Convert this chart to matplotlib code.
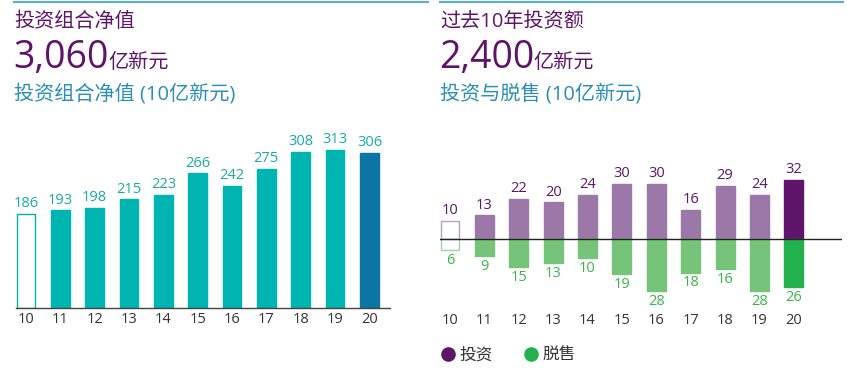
import matplotlib.pyplot as plt
from matplotlib.lines import Line2D

plt.rcParams['font.family'] = ['Open Sans', 'Noto Sans CJK SC', 'DejaVu Sans']

# ====================================
# Data
# ====================================
years = ["10", "11", "12", "13", "14", "15", "16", "17", "18", "19", "20"]
portfolio = [186, 193, 198, 215, 223, 266, 242, 275, 308, 313, 306]
invest = [10, 13, 22, 20, 24, 30, 30, 16, 29, 24, 32]
divest = [6, 9, 15, 13, 10, 19, 28, 18, 16, 28, 26]

# colours
purple = "#5e1468"
title_blue = "#2b8db8"
teal = "#00b5b1"
teal_txt = "#1aa9a9"
navy = "#0c75a5"
purple_light = "#9b78a8"
green_light = "#76c479"
green_dark = "#22b14c"
green_txt = "#39b54a"
tick_col = "#333333"

W, H = 860, 375
fig = plt.figure(figsize=(W / 100, H / 100), dpi=100)


def ax_px(x0, y0, x1, y1):
    # pixel box (top-left origin) -> figure axes
    return fig.add_axes([x0 / W, 1 - y1 / H, (x1 - x0) / W, (y1 - y0) / H])


# top rules
fig.add_artist(Line2D([14 / W, 428 / W], [1 - 1.5 / H] * 2, color="#5aaed0", lw=1.5))
fig.add_artist(Line2D([440 / W, 843 / W], [1 - 1.5 / H] * 2, color="#5aaed0", lw=1.5))

# ====================================
# Headers
# ====================================
fig.text(14 / W, 1 - 22 / H, "投资组合净值", color=purple, fontsize=14.5, va="center")
fig.text(13 / W, 1 - 68 / H, "3,060", color=purple, fontsize=27, va="baseline")
fig.text(108 / W, 1 - 68 / H, "亿新元", color=purple, fontsize=14.5, va="baseline")
fig.text(14 / W, 1 - 94 / H, "投资组合净值 (10亿新元)", color=title_blue, fontsize=14.5, va="center")

fig.text(440 / W, 1 - 22 / H, "过去10年投资额", color=purple, fontsize=14.5, va="center")
fig.text(439 / W, 1 - 68 / H, "2,400", color=purple, fontsize=27, va="baseline")
fig.text(533 / W, 1 - 68 / H, "亿新元", color=purple, fontsize=14.5, va="baseline")
fig.text(440 / W, 1 - 94 / H, "投资与脱售 (10亿新元)", color=title_blue, fontsize=14.5, va="center")

# ====================================
# Left chart: portfolio value
# ====================================
ax1 = ax_px(16, 130, 390, 308)
pos = list(range(len(years)))
fills = ["white"] + [teal] * 9 + [navy]
edges = [teal] * 10 + [navy]
ax1.bar(pos, portfolio, width=0.55, color=fills, edgecolor=edges, linewidth=1)
for x, v in zip(pos, portfolio):
    ax1.annotate(str(v), (x, v), xytext=(0, 2), textcoords="offset points",
                 ha="center", va="bottom", fontsize=10.5, color=teal_txt)
ax1.set_xlim(-0.29, 10.6)
ax1.set_ylim(0, 352)
ax1.set_xticks(pos, years)
ax1.tick_params(axis="x", length=0, pad=3, labelsize=10.5, labelcolor=tick_col)
ax1.set_yticks([])
for s in ["top", "right", "left"]:
    ax1.spines[s].set_visible(False)
ax1.spines["bottom"].set_color("#444444")
ax1.spines["bottom"].set_linewidth(1)

# ====================================
# Right chart: investments vs divestments
# ====================================
ax2 = ax_px(440, 170, 842, 300)
inv_fill = ["white"] + [purple_light] * 9 + [purple]
inv_edge = ["#b99cc6"] + [purple_light] * 9 + [purple]
div_fill = ["white"] + [green_light] * 9 + [green_dark]
div_edge = ["#9ed49f"] + [green_light] * 9 + [green_dark]
ax2.bar(pos, invest, width=0.55, color=inv_fill, edgecolor=inv_edge, linewidth=1)
ax2.bar(pos, [-d for d in divest], width=0.55, color=div_fill, edgecolor=div_edge, linewidth=1)
ax2.axhline(0, color="#222222", lw=1)
for x, v in zip(pos, invest):
    ax2.annotate(str(v), (x, v), xytext=(0, 2), textcoords="offset points",
                 ha="center", va="bottom", fontsize=10.5, color=purple)
for x, v in zip(pos, divest):
    ax2.annotate(str(v), (x, -v), xytext=(0, -2), textcoords="offset points",
                 ha="center", va="top", fontsize=10.5, color=green_txt)
ax2.set_xlim(-0.29, 11.4)
ax2.set_ylim(-32.8, 37.5)
ax2.set_xticks(pos, years)
ax2.tick_params(axis="x", length=0, pad=9.5, labelsize=10.5, labelcolor=tick_col)
ax2.set_yticks([])
for s in ax2.spines.values():
    s.set_visible(False)

handles = [
    Line2D([], [], marker="o", ls="", color=purple, markersize=9.5, label="投资"),
    Line2D([], [], marker="o", ls="", color=green_dark, markersize=9.5, label="脱售"),
]
fig.legend(handles=handles, loc="center left", bbox_to_anchor=(423 / W, 1 - 356 / H),
           ncol=2, frameon=False, fontsize=12, handletextpad=0.1, columnspacing=1.7,
           handlelength=1.2, labelcolor="#333333")

fig.savefig("out.png", dpi=100)
